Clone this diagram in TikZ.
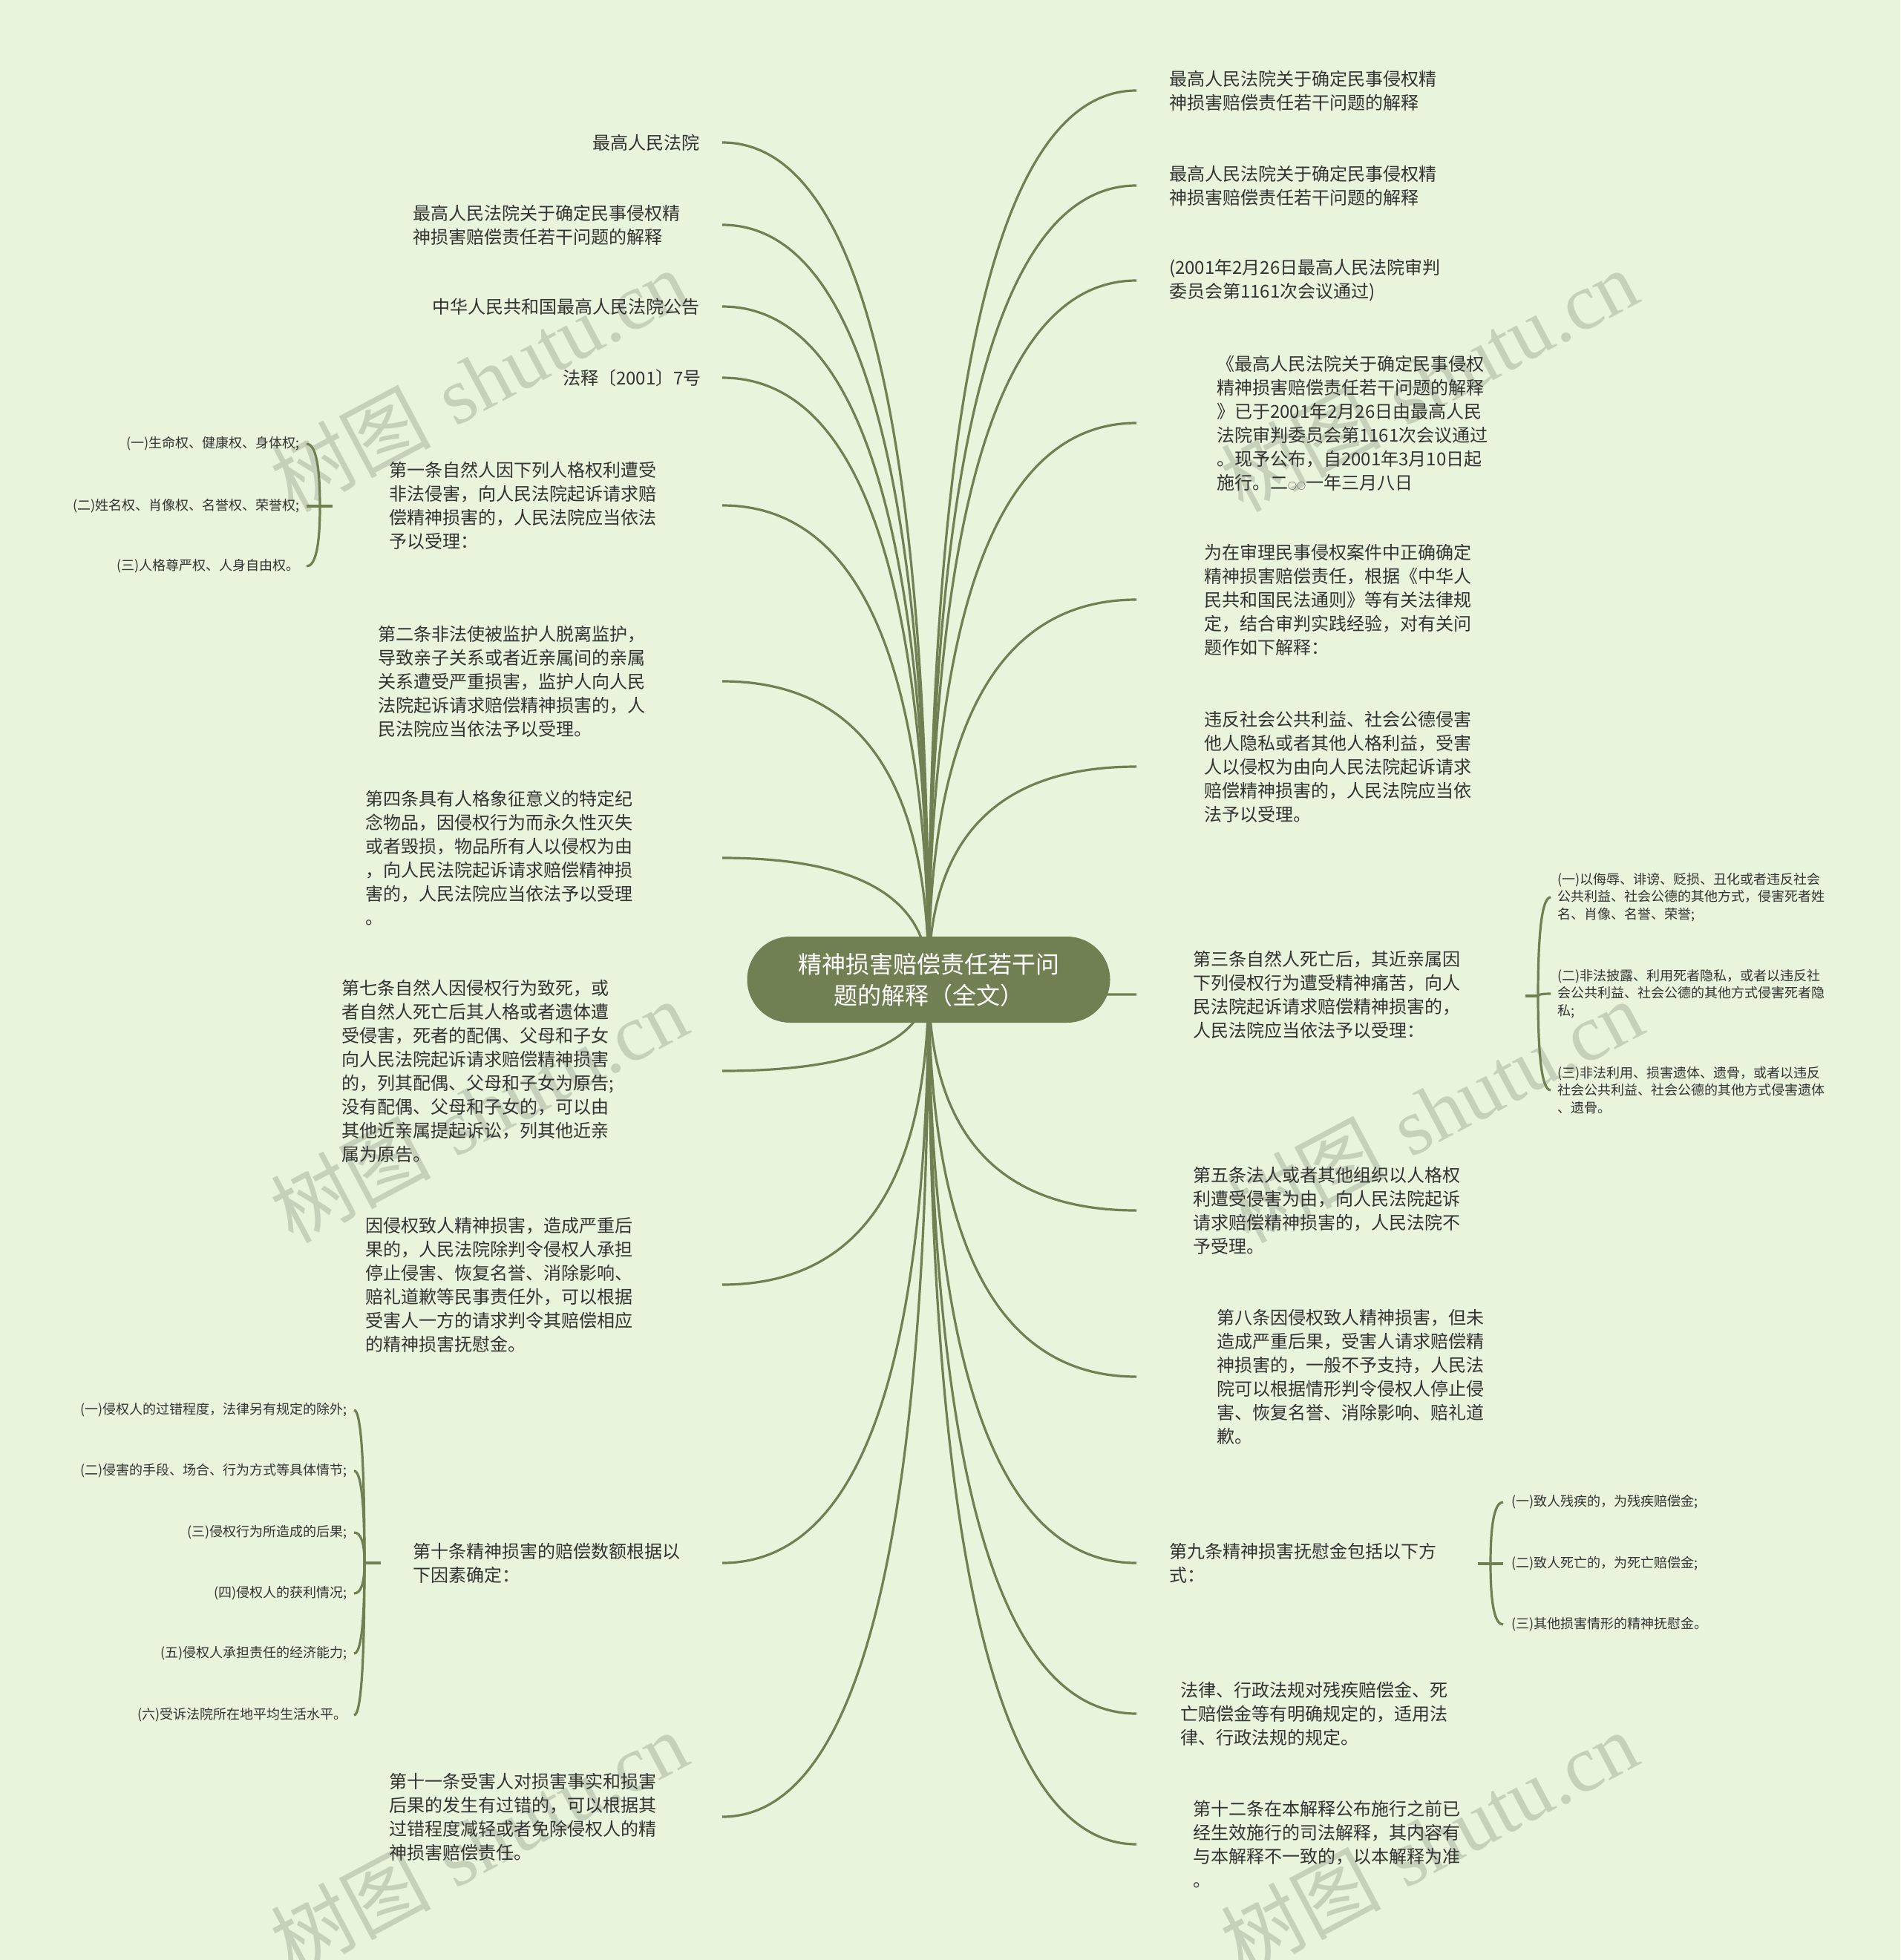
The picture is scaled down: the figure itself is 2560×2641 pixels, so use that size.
\documentclass[tikz,border=0pt]{standalone}
\usepackage{fontspec}
\newfontfamily\cjk{Noto Sans CJK SC}
\newfontfamily\wmlat{Liberation Serif}
\usetikzlibrary{calc}
\definecolor{bgc}{RGB}{232,244,219}
\definecolor{lnc}{RGB}{112,128,82}
\definecolor{txc}{RGB}{51,51,51}
\definecolor{wmc}{RGB}{198,209,188}
\pgfdeclarelayer{back}
\pgfdeclarelayer{bg}
\pgfsetlayers{back,bg,main}
\tikzset{
  txt/.style={font=\cjk\fontsize{24}{32}\selectfont, text=txc, inner sep=0pt, align=left},
  subtxt/.style={font=\cjk\fontsize{18}{23.6}\selectfont, text=txc, inner sep=0pt, align=left},
  link/.style={draw=lnc, line width=3.2pt},
  wm/.style={font=\fontsize{108}{108}\selectfont, text=wmc, rotate=28, inner sep=0pt},
  qc/.style={to path={let \p1=(\tikztostart), \p2=(\tikztotarget) in
     .. controls ($(\p1)!2/3!(\x1,\y2)$) and ($(\p2)!2/3!(\x1,\y2)$) .. (\p2)}},
}
\begin{document}
\begin{tikzpicture}[x=1pt,y=-1pt]
\useasboundingbox (0,0) rectangle (2560,2641);
\begin{pgfonlayer}{back}
\fill[bgc] (0,0) rectangle (2560,2641);
% watermarks
\foreach \wx/\wy [count=\i] in {645/512,1925/512,645/1497,1932/1497,645/2482,1925/2482}
  \node[wm] (wm\i) at (\wx,\wy) {{\cjk 树图} {\wmlat shutu.cn}};
\end{pgfonlayer}

% root
\node[fill=lnc, rounded corners=58pt, minimum width=489pt, minimum height=116pt,
      text=white, font=\cjk\fontsize{32}{42}\selectfont, align=center, inner sep=0pt]
      (root) at (1251,1320) {精神损害赔偿责任若干问\\题的解释（全文）};

\coordinate (lend) at (973,0);
\coordinate (rend) at (1531,0);

% left main nodes
\node[txt, anchor=east] (l1) at (943,192) {最高人民法院};
\node[txt, anchor=west] (l2) at (556,303) {最高人民法院关于确定民事侵权精\\神损害赔偿责任若干问题的解释};
\node[txt, anchor=east] (l3) at (943,413) {中华人民共和国最高人民法院公告};
\node[txt, anchor=east] (l4) at (945,509) {法释〔2001〕7号};
\node[txt, anchor=west] (l5) at (524,681) {第一条自然人因下列人格权利遭受\\非法侵害，向人民法院起诉请求赔\\偿精神损害的，人民法院应当依法\\予以受理：};
\node[txt, anchor=west] (l6) at (509,918) {第二条非法使被监护人脱离监护，\\导致亲子关系或者近亲属间的亲属\\关系遭受严重损害，监护人向人民\\法院起诉请求赔偿精神损害的，人\\民法院应当依法予以受理。};
\node[txt, anchor=west] (l7) at (492,1156) {第四条具有人格象征意义的特定纪\\念物品，因侵权行为而永久性灭失\\或者毁损，物品所有人以侵权为由\\，向人民法院起诉请求赔偿精神损\\害的，人民法院应当依法予以受理\\。};
\node[txt, anchor=west] (l8) at (460,1443) {第七条自然人因侵权行为致死，或\\者自然人死亡后其人格或者遗体遭\\受侵害，死者的配偶、父母和子女\\向人民法院起诉请求赔偿精神损害\\的，列其配偶、父母和子女为原告;\\没有配偶、父母和子女的，可以由\\其他近亲属提起诉讼，列其他近亲\\属为原告。};
\node[txt, anchor=west] (l9) at (492,1731) {因侵权致人精神损害，造成严重后\\果的，人民法院除判令侵权人承担\\停止侵害、恢复名誉、消除影响、\\赔礼道歉等民事责任外，可以根据\\受害人一方的请求判令其赔偿相应\\的精神损害抚慰金。};
\node[txt, anchor=west] (l10) at (556,2106) {第十条精神损害的赔偿数额根据以\\下因素确定：};
\node[txt, anchor=west] (l11) at (524,2448) {第十一条受害人对损害事实和损害\\后果的发生有过错的，可以根据其\\过错程度减轻或者免除侵权人的精\\神损害赔偿责任。};

% right main nodes
\node[txt, anchor=west] (r1) at (1575,122) {最高人民法院关于确定民事侵权精\\神损害赔偿责任若干问题的解释};
\node[txt, anchor=west] (r2) at (1575,250) {最高人民法院关于确定民事侵权精\\神损害赔偿责任若干问题的解释};
\node[txt, anchor=west] (r3) at (1575,378) {(2001年2月26日最高人民法院审判\\委员会第1161次会议通过)};
\node[txt, anchor=west] (r4) at (1639,570) {《最高人民法院关于确定民事侵权\\精神损害赔偿责任若干问题的解释\\》已于2001年2月26日由最高人民\\法院审判委员会第1161次会议通过\\。现予公布，自2001年3月10日起\\施行。二{\fontsize{12}{12}\selectfont ○○}一年三月八日};
\node[txt, anchor=west] (r5) at (1622,808) {为在审理民事侵权案件中正确确定\\精神损害赔偿责任，根据《中华人\\民共和国民法通则》等有关法律规\\定，结合审判实践经验，对有关问\\题作如下解释：};
\node[txt, anchor=west] (r6) at (1622,1033) {违反社会公共利益、社会公德侵害\\他人隐私或者其他人格利益，受害\\人以侵权为由向人民法院起诉请求\\赔偿精神损害的，人民法院应当依\\法予以受理。};
\node[txt, anchor=west] (r7) at (1607,1340) {第三条自然人死亡后，其近亲属因\\下列侵权行为遭受精神痛苦，向人\\民法院起诉请求赔偿精神损害的，\\人民法院应当依法予以受理：};
\node[txt, anchor=west] (r8) at (1607,1631) {第五条法人或者其他组织以人格权\\利遭受侵害为由，向人民法院起诉\\请求赔偿精神损害的，人民法院不\\予受理。};
\node[txt, anchor=west] (r9) at (1639,1855) {第八条因侵权致人精神损害，但未\\造成严重后果，受害人请求赔偿精\\神损害的，一般不予支持，人民法\\院可以根据情形判令侵权人停止侵\\害、恢复名誉、消除影响、赔礼道\\歉。};
\node[txt, anchor=west] (r10) at (1575,2106) {第九条精神损害抚慰金包括以下方\\式：};
\node[txt, anchor=west] (r11) at (1590,2309) {法律、行政法规对残疾赔偿金、死\\亡赔偿金等有明确规定的，适用法\\律、行政法规的规定。};
\node[txt, anchor=west] (r12) at (1607,2485) {第十二条在本解释公布施行之前已\\经生效施行的司法解释，其内容有\\与本解释不一致的，以本解释为准\\。};

% sub items of l5
\node[subtxt, anchor=east] (a1) at (404,598) {(一)生命权、健康权、身体权;};
\node[subtxt, anchor=east] (a2) at (404,682) {(二)姓名权、肖像权、名誉权、荣誉权;};
\node[subtxt, anchor=east] (a3) at (404,763) {(三)人格尊严权、人身自由权。};
\coordinate (pa) at (448,682); \coordinate (ja) at (431,682); \coordinate (ea) at (413,0);

% sub items of l10
\node[subtxt, anchor=east] (b1) at (468,1900) {(一)侵权人的过错程度，法律另有规定的除外;};
\node[subtxt, anchor=east] (b2) at (468,1982) {(二)侵害的手段、场合、行为方式等具体情节;};
\node[subtxt, anchor=east] (b3) at (468,2065) {(三)侵权行为所造成的后果;};
\node[subtxt, anchor=east] (b4) at (468,2147) {(四)侵权人的获利情况;};
\node[subtxt, anchor=east] (b5) at (468,2228) {(五)侵权人承担责任的经济能力;};
\node[subtxt, anchor=east] (b6) at (468,2311) {(六)受诉法院所在地平均生活水平。};
\coordinate (pb) at (513,2106); \coordinate (jb) at (491,2106); \coordinate (eb) at (477,0);

% sub items of r7
\node[subtxt, anchor=west] (c1) at (2098,1209) {(一)以侮辱、诽谤、贬损、丑化或者违反社会\\公共利益、社会公德的其他方式，侵害死者姓\\名、肖像、名誉、荣誉;};
\node[subtxt, anchor=west] (c2) at (2098,1339) {(二)非法披露、利用死者隐私，或者以违反社\\会公共利益、社会公德的其他方式侵害死者隐\\私;};
\node[subtxt, anchor=west] (c3) at (2098,1469) {(三)非法利用、损害遗体、遗骨，或者以违反\\社会公共利益、社会公德的其他方式侵害遗体\\、遗骨。};
\coordinate (pc) at (2055,1342); \coordinate (jc) at (2072,1342); \coordinate (ec) at (2089,0);

% sub items of r10
\node[subtxt, anchor=west] (d1) at (2036,2024) {(一)致人残疾的，为残疾赔偿金;};
\node[subtxt, anchor=west] (d2) at (2036,2107) {(二)致人死亡的，为死亡赔偿金;};
\node[subtxt, anchor=west] (d3) at (2036,2189) {(三)其他损害情形的精神抚慰金。};
\coordinate (pd) at (1991,2107); \coordinate (jd) at (2008,2107); \coordinate (ed) at (2025,0);

\begin{pgfonlayer}{bg}
  \foreach \nm in {l1,l2,l3,l4,l5,l6,l7,l8,l9,l10,l11}
    \draw[link] (root.center) to[qc] (\nm.east -| lend);
  \foreach \nm in {r1,r2,r3,r4,r5,r6,r7,r8,r9,r10,r11,r12}
    \draw[link] (root.center) to[qc] (\nm.west -| rend);
\end{pgfonlayer}

\draw[link] (pa) -- (ja);
\foreach \nm in {a1,a2,a3} \draw[link] (ja) to[qc] (\nm.east -| ea);
\draw[link] (pb) -- (jb);
\foreach \nm in {b1,b2,b3,b4,b5,b6} \draw[link] (jb) to[qc] (\nm.east -| eb);
\draw[link] (pc) -- (jc);
\foreach \nm in {c1,c2,c3} \draw[link] (jc) to[qc] (\nm.west -| ec);
\draw[link] (pd) -- (jd);
\foreach \nm in {d1,d2,d3} \draw[link] (jd) to[qc] (\nm.west -| ed);
\end{tikzpicture}
\end{document}
